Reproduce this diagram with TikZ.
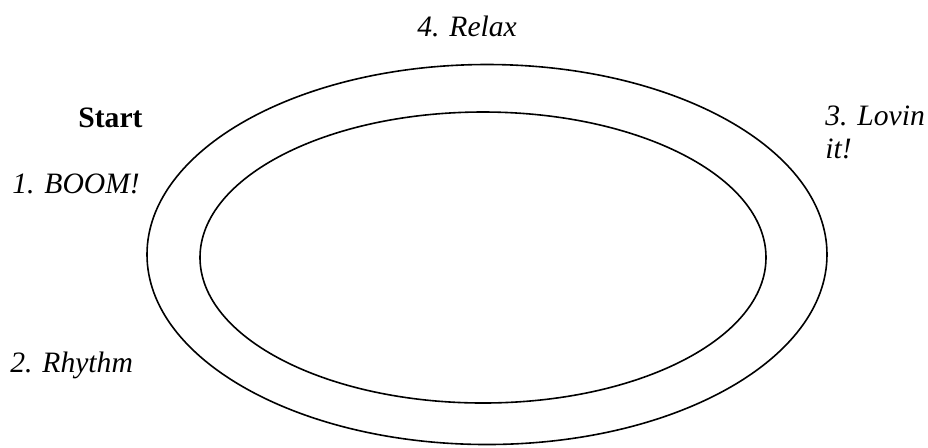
\documentclass[tikz,border=0pt]{standalone}
\usepackage{fontspec}
\setmainfont{Liberation Serif}
\usetikzlibrary{positioning}

\tikzset{
	ring/.style={draw,line width=0.8pt},
	step label/.style={font=\itshape\fontsize{14.8}{16.5}\selectfont,anchor=base west,inner sep=0pt,align=left},
}

\begin{document}
\begin{tikzpicture}[x=0.5pt,y=-0.5pt]
	\useasboundingbox (0,0) rectangle (928,447);

	% the two rings
	\draw[ring] (487,254.5) ellipse [x radius=340, y radius=190];
	\draw[ring] (483,257.5) ellipse [x radius=283, y radius=145.5];

	\node[font=\bfseries\fontsize{14.8}{16.5}\selectfont,anchor=base west,inner sep=0pt] (start) at (78,127) {Start};
	\node[step label] (boom) at (12,193) {1. BOOM!};
	\node[step label] (rhythm) at (10,372) {2. Rhythm};
	\node[step label] (lovin) at (825,158) {3. Lovin\\it!};
	\node[step label] (relax) at (417,36) {4. Relax};
\end{tikzpicture}
\end{document}
